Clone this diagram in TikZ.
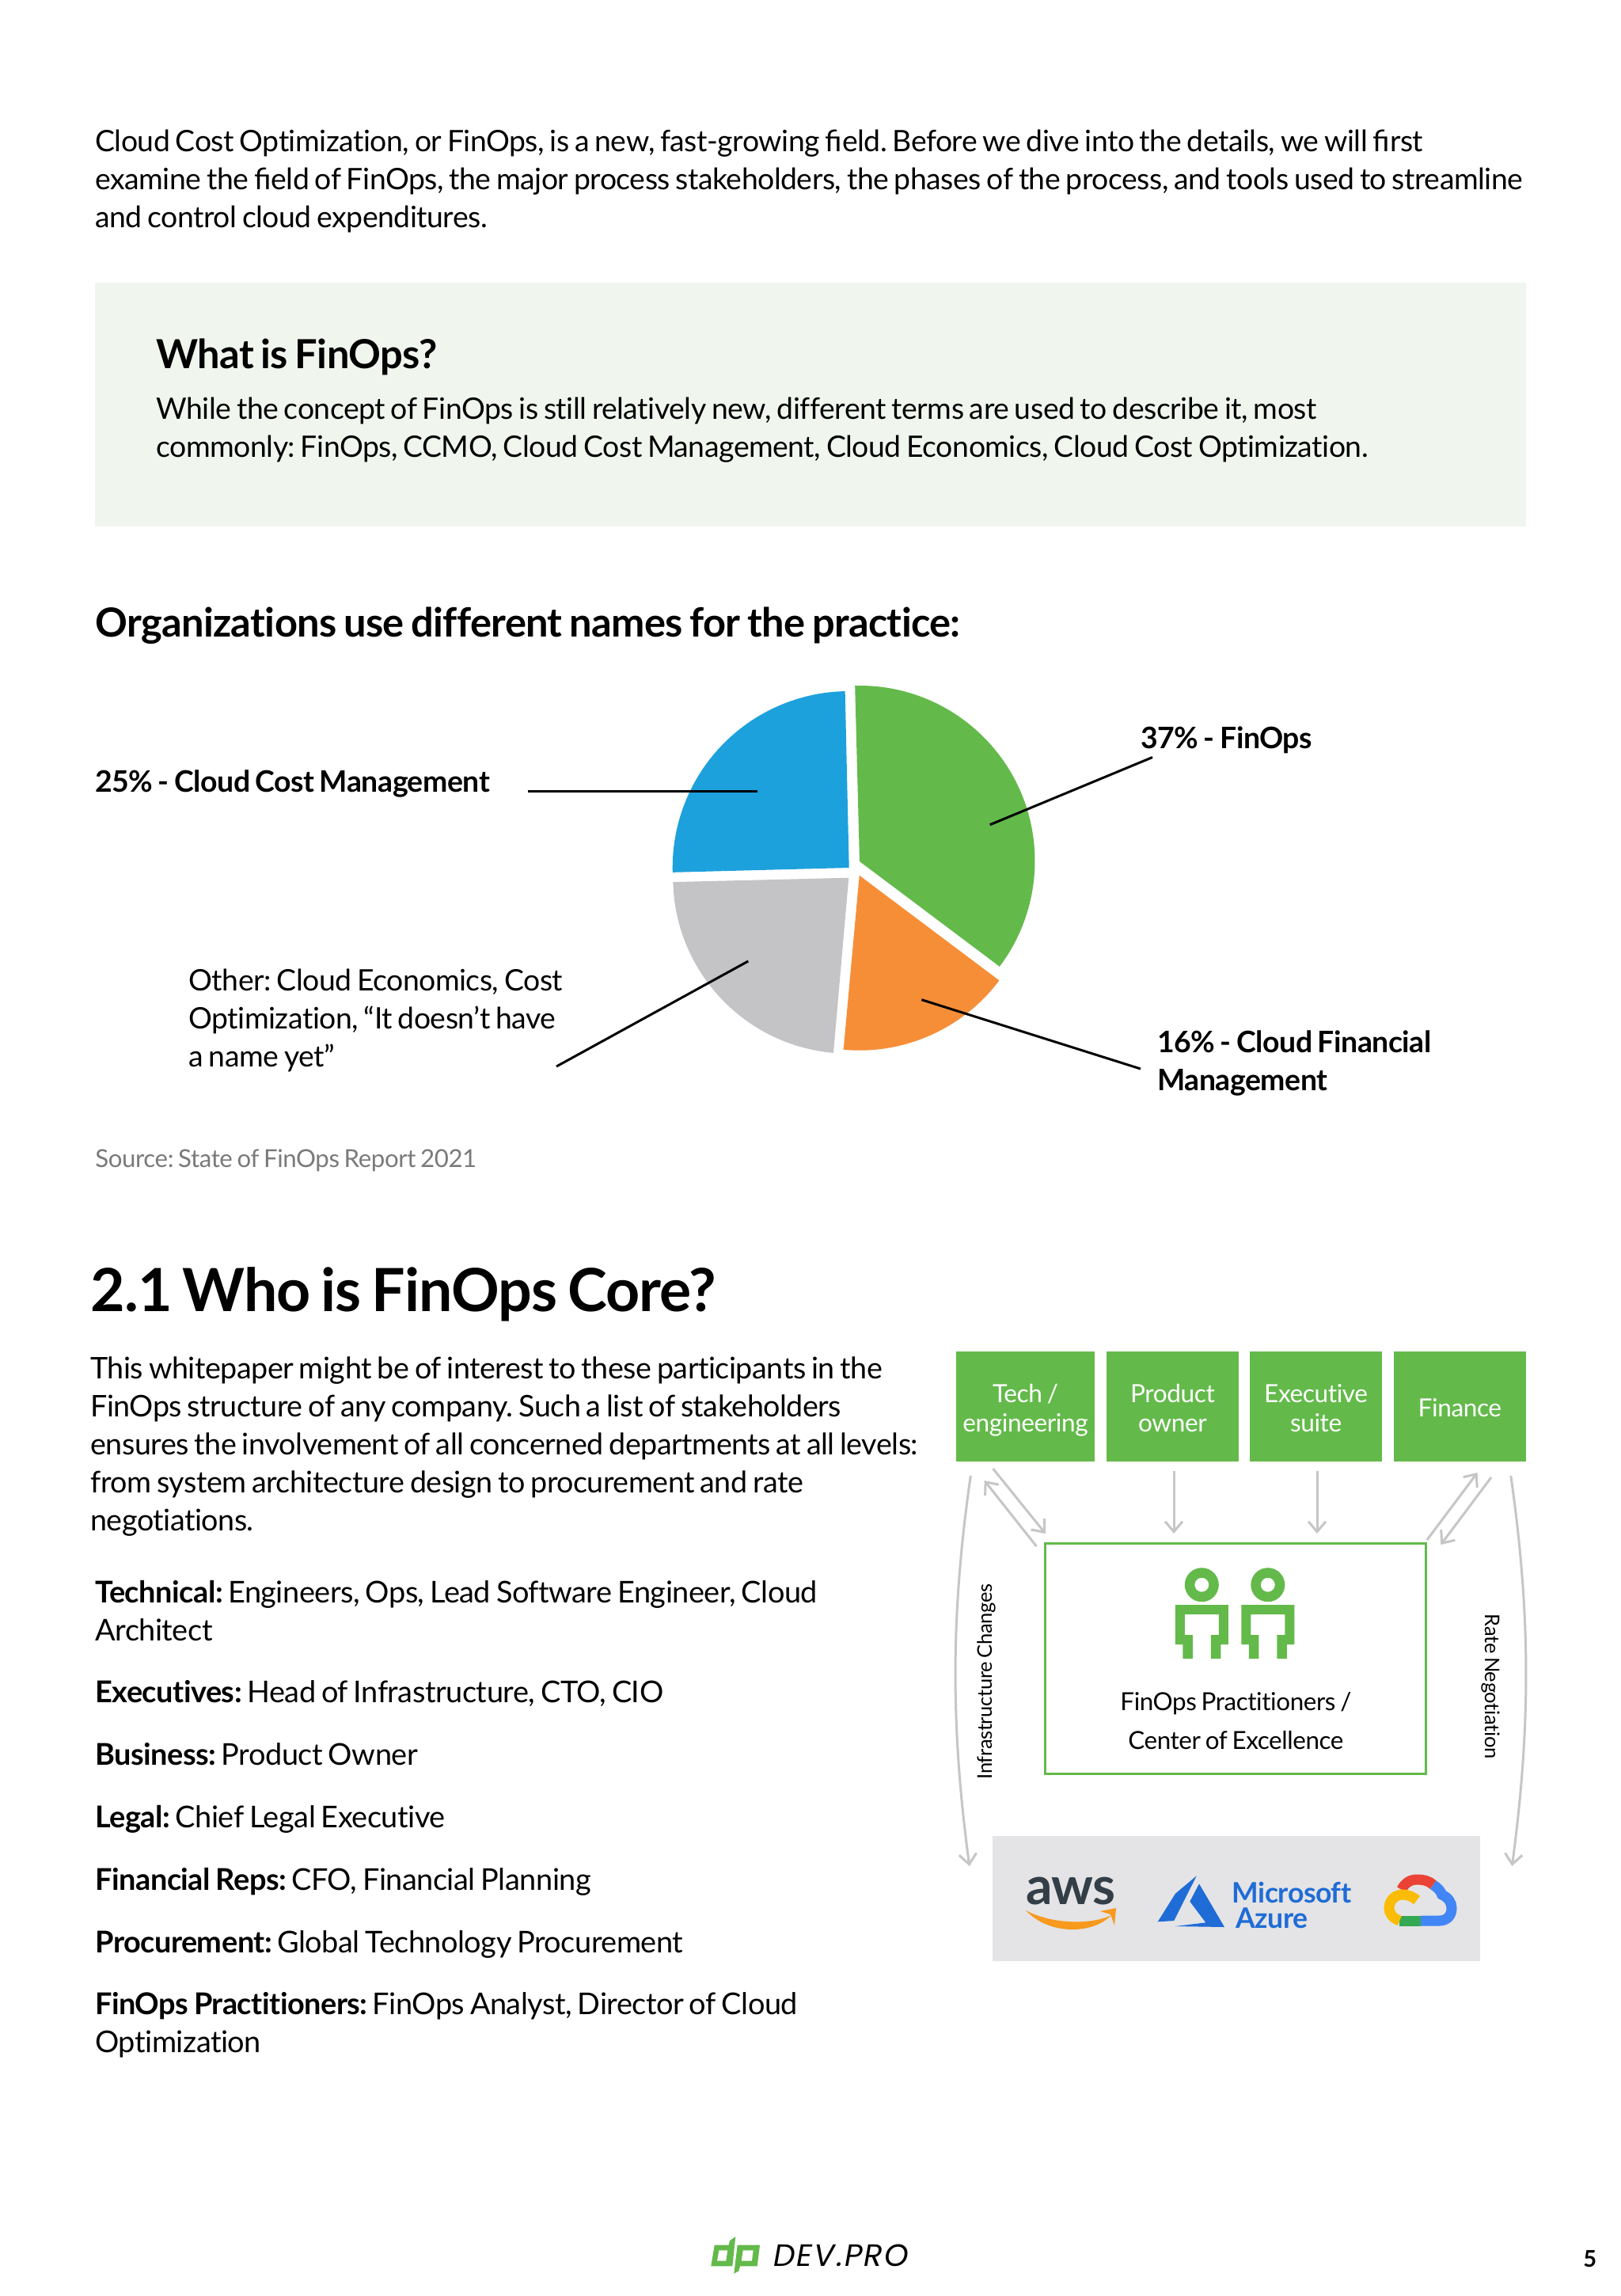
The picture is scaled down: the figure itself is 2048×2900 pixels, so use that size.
\documentclass[tikz,border=0pt]{standalone}
\usepackage{fontspec}
\setmainfont{Lato}[WordSpace=0.75,LetterSpace=-1.3,Ligatures=NoCommon]
\newfontfamily\logofont{Poppins}[LetterSpace=5]
\usetikzlibrary{arrows.meta}
\definecolor{fgreen}{HTML}{63BA4A}
\definecolor{fblue}{HTML}{1CA1DC}
\definecolor{fgray}{HTML}{C4C3C6}
\definecolor{forange}{HTML}{F68E38}
\definecolor{fpale}{HTML}{F0F6EE}
\definecolor{farrow}{HTML}{C6C6C8}
\definecolor{flogo}{HTML}{E4E4E6}
\definecolor{fsrc}{HTML}{7A7A7A}
\definecolor{fazure}{HTML}{1F6CD6}
\definecolor{fawstext}{HTML}{333E47}
\definecolor{fawsarc}{HTML}{F79A1E}
\definecolor{gred}{HTML}{EA4335}
\definecolor{gblue}{HTML}{4285F4}
\definecolor{ggreen}{HTML}{34A853}
\definecolor{gyellow}{HTML}{FBBC05}
\frenchspacing
\newcommand\lfi{{\addfontfeature{Ligatures=Common}fi}}
\newcommand\mlt[1]{\begin{tabular}[t]{@{}l@{}}#1\end{tabular}}
\newcommand\mlc[1]{\raisebox{-6.5pt}[0pt][0pt]{\begin{tabular}{@{}c@{}}#1\end{tabular}}}
\tikzset{
 x=0.5pt,y=0.5pt,
 body/.style={anchor=base west,inner sep=0pt,font=\fontsize{18.68}{24}\selectfont,text=black},
 bodyp/.style={anchor=base west,inner sep=0pt,font=\fontsize{18.82}{24}\selectfont,text=black},
 bodyb/.style={anchor=base west,inner sep=0pt,font=\fontsize{18.95}{24}\selectfont,text=black},
 lab/.style={anchor=base west,inner sep=0pt,font=\fontsize{18.7}{24}\selectfont\bfseries},
 head/.style={anchor=base west,inner sep=0pt,font=\fontsize{25.3}{30}\selectfont\bfseries},
 greenbox/.style={fill=fgreen,text=white,minimum width=83.2pt,minimum height=69.5pt,inner sep=0pt,font=\fontsize{15.8}{18.5}\selectfont},
 lead/.style={draw=black,line width=1.5pt},
 flow/.style={draw=farrow,line width=1.5pt,-{Straight Barb[length=6.5pt,width=11pt,line width=1.5pt]}},
 small/.style={inner sep=0pt,font=\fontsize{12.75}{15}\selectfont},
 coretxt/.style={inner sep=0pt,font=\fontsize{15.7}{18}\selectfont},
}
\begin{document}
\begin{tikzpicture}
\useasboundingbox (0,0) rectangle (2048,-2900);
\fill[white] (0,0) rectangle (2048,-2900);
\node[body] (intro) at (120,-191.5) {\mlt{Cloud Cost Optimization, or FinOps, is a new, fast-growing \lfi eld. Before we dive into the details, we will \lfi rst\\examine the \lfi eld of FinOps, the major process stakeholders, the phases of the process, and tools used to streamline\\and control cloud expenditures.}};
\fill[fpale] (120,-357) rectangle (1928,-665);
\node[head] (whatis) at (197,-465) {What is FinOps?};
\node[body] (whatbody) at (197,-529) {\mlt{While the concept of FinOps is still relatively new, different terms are used to describe it, most\\commonly: FinOps, CCMO, Cloud Cost Management, Cloud Economics, Cloud Cost Optimization.}};
\node[head] (orgs) at (120,-804) {Organizations use different names for the practice:};
% pie
\fill[fgreen] (1086,-1088) -- ++(91.5:222) arc[start angle=91.5,end angle=-37,radius=110.75pt] -- cycle;
\fill[forange] (1085.7,-1105.7) -- ++(-36.9:221) arc[start angle=-36.9,end angle=-95.2,radius=110.5pt] -- cycle;
\fill[fgray] (1072.3,-1108.7) -- ++(-95:222) arc[start angle=-95,end angle=-178.6,radius=111pt] -- cycle;
\fill[fblue] (1072.7,-1096) -- ++(91.3:223) arc[start angle=91.3,end angle=181.5,radius=111.5pt] -- cycle;
\node[lab] (l25) at (120,-1000) {25\% - Cloud Cost Management};
\node[lab] (l37) at (1441,-945) {37\% - FinOps};
\node[lab] (l16) at (1462,-1329) {\mlt{16\% - Cloud Financial\\Management}};
\node[body] (lother) at (238,-1251) {\mlt{Other: Cloud Economics, Cost\\Optimization, “It doesn’t have\\a name yet”}};
\coordinate (a25) at (667,-999.5); \coordinate (b25) at (957,-999.5);
\coordinate (a37) at (1456,-956.5); \coordinate (b37) at (1250.7,-1041.7);
\coordinate (a16) at (1441,-1350); \coordinate (b16) at (1164.3,-1262.7);
\coordinate (ao) at (703,-1347); \coordinate (bo) at (945.3,-1214);
\draw[lead] (a25)--(b25);
\draw[lead] (a37)--(b37);
\draw[lead] (a16)--(b16);
\draw[lead] (ao)--(bo);
\node[anchor=base west,inner sep=0pt,text=fsrc,font=\fontsize{15.6}{20}\selectfont] (src) at (120,-1474) {Source: State of FinOps Report 2021};
\node[anchor=base west,inner sep=0pt,font=\fontsize{37.6}{44}\selectfont\bfseries] (h21) at (114,-1656) {2.1 Who is FinOps Core?};
\node[bodyp] (p21) at (114,-1741) {\mlt{This whitepaper might be of interest to these participants in the\\FinOps structure of any company. Such a list of stakeholders\\ensures the involvement of all concerned departments at all levels:\\from system architecture design to procurement and rate\\negotiations.}};
\node[bodyb] (r1) at (120,-2024) {\mlt{\textbf{Technical:} Engineers, Ops, Lead Software Engineer, Cloud\\Architect}};
\node[bodyb] (r2) at (120,-2150) {\textbf{Executives:} Head of Infrastructure, CTO, CIO};
\node[bodyb] (r3) at (120,-2229) {\textbf{Business:} Product Owner};
\node[bodyb] (r4) at (120,-2308) {\textbf{Legal:} Chief Legal Executive};
\node[bodyb] (r5) at (120,-2387) {\textbf{Financial Reps:} CFO, Financial Planning};
\node[bodyb] (r6) at (120,-2466) {\textbf{Procurement:} Global Technology Procurement};
\node[bodyb] (r7) at (120,-2544) {\mlt{\textbf{FinOps Practitioners:} FinOps Analyst, Director of Cloud\\Optimization}};
% diagram boxes
\node[greenbox,minimum width=87.5pt] (tech) at (1295.5,-1776.5) {\mlc{Tech /\\engineering}};
\node[greenbox] (prod) at (1481.5,-1776.5) {\mlc{Product\\owner}};
\node[greenbox] (exec) at (1662.6,-1776.5) {\mlc{Executive\\suite}};
\node[greenbox] (fin) at (1844.4,-1776.5) {\mlc{Finance}};
\node[draw=fgreen,line width=1.5pt,minimum width=240.5pt,minimum height=145.5pt,inner sep=0pt] (core) at (1561.35,-2094.5) {};
\node[coretxt] (coretext1) at (1561.4,-2152) {FinOps Practitioners /};
\node[coretxt] (coretext2) at (1561.4,-2198) {Center of Excellence};
% people icons
\foreach \s in {-1.7,81.8}{
 \fill[fgreen,even odd rule] (1520+\s,-2001.7) circle[radius=10.75pt] (1520+\s,-2001.7) circle[radius=4.5pt];
 \fill[fgreen] (1486.5+\s,-2027) -- (1553.5+\s,-2027) -- (1553.5+\s,-2077) -- (1544+\s,-2077) -- (1544+\s,-2095) -- (1531.5+\s,-2095) -- (1531.5+\s,-2065) -- (1541.5+\s,-2065) -- (1541.5+\s,-2039) -- (1498.5+\s,-2039) -- (1498.5+\s,-2065) -- (1508.5+\s,-2065) -- (1508.5+\s,-2095) -- (1496+\s,-2095) -- (1496+\s,-2077) -- (1486.5+\s,-2077) -- cycle;
}
% arrows
\coordinate (t1) at (1254.6,-1855); \coordinate (c1) at (1320.8,-1937);
\coordinate (c2) at (1309.4,-1953); \coordinate (t2) at (1243.7,-1870);
\coordinate (p1) at (1483,-1858); \coordinate (p2) at (1483,-1937);
\coordinate (e1) at (1664,-1858); \coordinate (e2) at (1664,-1937);
\coordinate (c3) at (1802.9,-1945); \coordinate (f1) at (1866.6,-1860);
\coordinate (f2) at (1884,-1866); \coordinate (c4) at (1820.3,-1951);
\coordinate (la) at (1226.3,-1864); \coordinate (lb) at (1224.8,-2357);
\coordinate (ra) at (1908.8,-1864); \coordinate (rb) at (1910.3,-2357);
\draw[flow] (t1)--(c1);
\draw[flow] (c2)--(t2);
\draw[flow] (p1)--(p2);
\draw[flow] (e1)--(e2);
\draw[flow] (c3)--(f1);
\draw[flow] (f2)--(c4);
\draw[flow] (la) .. controls (1201,-2040) and (1201,-2180) .. (lb);
\draw[flow] (ra) .. controls (1934,-2040) and (1934,-2180) .. (rb);
\node[small,rotate=90] (infra) at (1246,-2124) {Infrastructure Changes};
\node[small,rotate=-90] (rate) at (1883,-2130) {Rate Negotiation};
% logos
\fill[flogo] (1253.6,-2319) rectangle (1870,-2477);
\node[inner sep=0pt,text=fawstext,font=\fontsize{33}{33}\selectfont\bfseries] (aws) at (1353,-2388) {aws};
\fill[fawsarc] (1296,-2413) .. controls (1325,-2444) and (1380,-2444) .. (1404,-2419) .. controls (1380,-2431) and (1330,-2431) .. cycle;
\fill[fawsarc] (1390,-2414) -- (1410,-2410) -- (1408,-2432) -- (1403,-2418) -- cycle;
\fill[fazure] (1511.7,-2369.3) -- (1485,-2391.7) -- (1462.7,-2427.3) -- (1483.3,-2426) -- cycle;
\fill[fazure] (1515,-2379.3) -- (1547,-2434) -- (1485,-2433) -- (1523.3,-2428.3) -- (1503.3,-2401.7) -- cycle;
\node[inner sep=0pt,text=fazure,font=\fontsize{17.8}{17}\selectfont\bfseries] (ms) at (1632,-2390) {Microsoft};
\node[inner sep=0pt,text=fazure,font=\fontsize{17.8}{17}\selectfont\bfseries,anchor=west] (az) at (1561,-2423) {Azure};
% google cloud
\begin{scope}[line width=6.5pt,line cap=butt]
\draw[gred] (1770.7,-2386.7) .. controls (1775,-2378) and (1782,-2374) .. (1790,-2374) .. controls (1799,-2374) and (1806,-2376) .. (1810.7,-2380.7);
\draw[gblue] (1810.7,-2380.7) .. controls (1816,-2384) and (1820,-2388) .. (1821.7,-2393) .. controls (1830,-2397) and (1834,-2403) .. (1834,-2410) .. controls (1834,-2420) and (1828,-2426) .. (1818,-2426) -- (1795,-2426);
\draw[ggreen] (1795,-2426) -- (1768.3,-2426);
\draw[gyellow] (1768.3,-2426) .. controls (1760,-2423) and (1755,-2417) .. (1755,-2410) .. controls (1755,-2400) and (1763,-2393) .. (1772,-2393) .. controls (1778,-2393) and (1784,-2395) .. (1790,-2400);
\end{scope}
% footer logo
\fill[fgreen,even odd rule] (902.7,-2835.7) -- (920.7,-2835.7) -- (922,-2830) -- (929.3,-2825) -- (925.3,-2862.3) -- (898.3,-2862.3) -- cycle (908.3,-2842.3) -- (919.3,-2842.3) -- (917.3,-2855.7) -- (906,-2855.7) -- cycle;
\fill[fgreen,even odd rule] (931.7,-2835.7) -- (960,-2835.7) -- (956.7,-2862.3) -- (935,-2862.3) -- (933.3,-2868.3) -- (927.3,-2871.7) -- cycle (938.7,-2842.3) -- (951.7,-2842.3) -- (950,-2855.7) -- (936.7,-2855.7) -- cycle;
\node[inner sep=0pt,anchor=base west,font=\logofont\fontsize{19.5}{22}\selectfont\itshape] (dev) at (977,-2862.3) {DEV.PRO};
\node[inner sep=0pt,anchor=base west,font=\fontsize{14.5}{14}\selectfont\bfseries] (pg) at (2000,-2863) {5};
\end{tikzpicture}
\end{document}
